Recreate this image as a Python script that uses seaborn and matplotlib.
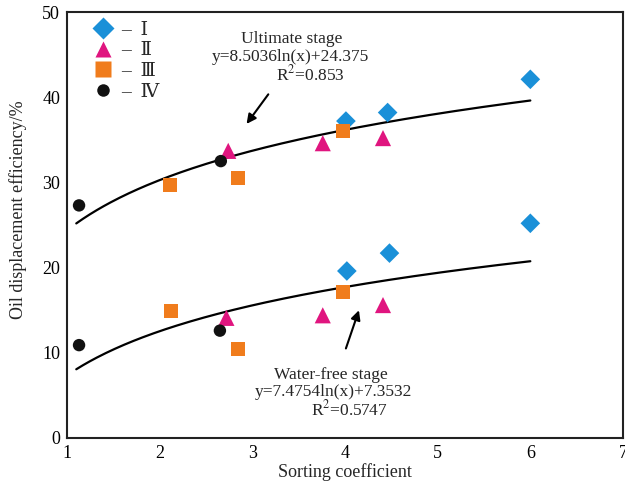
import numpy as np
import pandas as pd
import matplotlib
matplotlib.use("Agg")
import matplotlib.pyplot as plt
import seaborn as sns
from matplotlib.lines import Line2D

# ---- data ----
groups = ["Ⅰ", "Ⅱ", "Ⅲ", "Ⅳ"]
ult_x = {"Ⅰ": [4.01, 4.46, 6.00], "Ⅱ": [2.74, 3.76, 4.41], "Ⅲ": [2.11, 2.85, 3.98], "Ⅳ": [1.13, 2.66]}
ult_y = {"Ⅰ": [37.2, 38.2, 42.1], "Ⅱ": [33.7, 34.6, 35.2], "Ⅲ": [29.7, 30.5, 36.0], "Ⅳ": [27.3, 32.5]}
wf_x = {"Ⅰ": [4.02, 4.48, 6.00], "Ⅱ": [2.72, 3.76, 4.41], "Ⅲ": [2.12, 2.85, 3.98], "Ⅳ": [1.13, 2.65]}
wf_y = {"Ⅰ": [19.6, 21.7, 25.2], "Ⅱ": [14.1, 14.4, 15.6], "Ⅲ": [14.9, 10.4, 17.1], "Ⅳ": [10.9, 12.6]}

fit_a = [8.5036, 7.4754]
fit_b = [24.375, 7.3532]
fit_names = ["Ultimate", "Water-free"]
fit_range = [1.1, 6.0]

xticks = [1, 2, 3, 4, 5, 6, 7]
yticks = [0, 10, 20, 30, 40, 50]

colors = {"Ⅰ": "#1a90d8", "Ⅱ": "#e0157f", "Ⅲ": "#f07c1c", "Ⅳ": "#111111"}
markers = {"Ⅰ": "D", "Ⅱ": "^", "Ⅲ": "s", "Ⅳ": "o"}
sizes = {"Ⅰ": 100, "Ⅱ": 135, "Ⅲ": 100, "Ⅳ": 80}

rows = []
for g in groups:
    for x, y in zip(ult_x[g], ult_y[g]):
        rows.append((x, y, g, "Ultimate"))
    for x, y in zip(wf_x[g], wf_y[g]):
        rows.append((x, y, g, "Water-free"))
df = pd.DataFrame(rows, columns=["x", "y", "group", "stage"])

xs = np.linspace(fit_range[0], fit_range[1], 200)
curves = []
for name, a, b in zip(fit_names, fit_a, fit_b):
    curves.append(pd.DataFrame({"x": xs, "y": a * np.log(xs) + b, "stage": name}))
cdf = pd.concat(curves)

# ---- style ----
sns.set_style("white")
plt.rcParams["font.family"] = ["Liberation Serif", "DejaVu Serif"]
plt.rcParams["mathtext.fontset"] = "stix"

fig = plt.figure(figsize=(6.25, 4.82), dpi=100)
ax = fig.add_axes([0.1072, 0.0913, 0.8896, 0.8838])

sns.lineplot(data=cdf, x="x", y="y", units="stage", estimator=None,
             color="black", lw=1.6, ax=ax, legend=False)

for g in groups:
    sub = df[df.group == g]
    sns.scatterplot(data=sub, x="x", y="y", marker=markers[g], color=colors[g],
                    s=sizes[g], edgecolor="none", ax=ax, legend=False, zorder=3)

ax.set_xlim(1, 7)
ax.set_ylim(0, 50)
ax.set_xticks(xticks)
ax.set_yticks(yticks)
ax.tick_params(direction="in", length=5, width=1.2, labelsize=13, colors="black", pad=5)
for s in ax.spines.values():
    s.set_linewidth(1.5)
    s.set_color("#222222")
ax.set_xlabel("Sorting coefficient", fontsize=13, labelpad=1)
ax.set_ylabel("Oil displacement efficiency/%", fontsize=13)
ax.yaxis.set_label_coords(-0.072, 0.535)

handles = [Line2D([], [], marker=markers[g], color=colors[g], ls="none",
                  markersize=11 if g != "Ⅳ" else 9, markeredgecolor="none") for g in groups]
ax.legend(handles, ["–  " + g for g in groups], loc="upper left", frameon=False,
          fontsize=14, handletextpad=0.3, labelspacing=0.15, handlelength=1.2,
          bbox_to_anchor=(0.02, 1.01), borderaxespad=0.3)

ax.text(3.42, 46.8, "Ultimate stage", ha="center", va="center", fontsize=12.5)
ax.text(3.41, 44.7, "y=8.5036ln(x)+24.375", ha="center", va="center", fontsize=12.5)
ax.text(3.63, 42.7, "R$^2$=0.853", ha="center", va="center", fontsize=12.5)
ax.annotate("", xy=(2.92, 36.6), xytext=(3.19, 40.6),
            arrowprops=dict(arrowstyle="-|>", color="black", lw=1.5, mutation_scale=14))

ax.text(3.85, 7.4, "Water-free stage", ha="center", va="center", fontsize=12.5)
ax.text(3.88, 5.4, "y=7.4754ln(x)+7.3532", ha="center", va="center", fontsize=12.5)
ax.text(4.05, 3.4, "R$^2$=0.5747", ha="center", va="center", fontsize=12.5)
ax.annotate("", xy=(4.16, 15.3), xytext=(4.0, 10.2),
            arrowprops=dict(arrowstyle="-|>", color="black", lw=1.5, mutation_scale=14))

fig.savefig("out.png", dpi=100)
